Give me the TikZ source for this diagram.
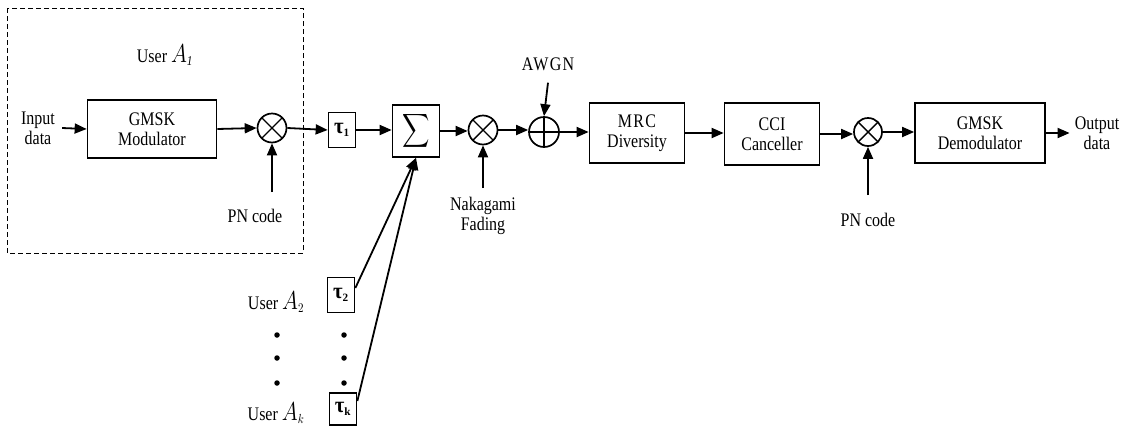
\documentclass[tikz,border=0pt]{standalone}
\usepackage{fontspec}
\setmainfont{Liberation Serif}
\usetikzlibrary{arrows.meta,calc}
\newcommand{\vs}[1]{\scalebox{1}[1.2]{#1}}
\newcommand{\bigA}{\scalebox{1.25}{\(A\)}}
\newcommand{\tausub}[1]{\scalebox{1.3}[1.4]{\textbf{τ}}\textsubscript{\textbf{#1}}}
\begin{document}
\begin{tikzpicture}[x=1pt,y=-1pt,
  every node/.style={font=\fontsize{16}{20}\selectfont},
  blk/.style={draw,line width=1.7pt,minimum width=#1,align=center,inner sep=0pt},
  tbox/.style={draw,line width=1.7pt,minimum width=27pt,minimum height=35pt,inner sep=0pt},
  mix/.style={draw,circle,line width=1.7pt,minimum size=29pt,inner sep=0pt,path picture={
      \draw[line width=1.4pt] (path picture bounding box.north west) -- (path picture bounding box.south east)
      (path picture bounding box.north east) -- (path picture bounding box.south west);}},
  addr/.style={draw,circle,line width=1.7pt,minimum size=30pt,inner sep=0pt,path picture={
      \draw[line width=1.4pt] (path picture bounding box.north) -- (path picture bounding box.south)
      (path picture bounding box.east) -- (path picture bounding box.west);}},
  arr/.style={line width=1.8pt,-{Triangle[length=12pt,width=10pt]}},
  lbl/.style={align=center,inner sep=2pt},
  dot/.style={circle,fill,inner sep=0pt,minimum size=5.5pt}]
\useasboundingbox (0,0) rectangle (1139,426);
% user A1 dashed box
\draw[line width=0.9pt,dash pattern=on 5pt off 3pt] (7,8) rectangle (303,253);
\node[lbl] (ua1) at (165,55) {\vs{User \bigA\(_{\mathit{1}}\)}};
\node[lbl,align=center,inner sep=0pt] (in) at (38,128) {\vs{Input}\\\vs{data}};
\node[blk=129pt,minimum height=58pt] (mod) at (152,129) {\vs{GMSK}\\\vs{Modulator}};
\node[mix] (m1) at (272,128) {};
\coordinate (pn1a) at (272,192);
\node[lbl] (pn1) at (255,216) {\vs{PN code}};
\node[tbox] (t1) at (342,130) {\tausub{1}};
\node[blk=47pt,minimum height=52pt] (sig) at (416,131) {\scalebox{1.9}[2.35]{\(\displaystyle\sum\)}};
\node[mix] (m2) at (483,130) {};
\coordinate (nka) at (483,188);
\node[lbl] (nk) at (483,216) {\vs{Nakagami}\\\vs{Fading}};
\node[addr] (add) at (544,132) {};
\node[lbl] (awgn) at (548,64) {\vs{\addfontfeature{LetterSpace=8}AWGN}};
\node[blk=95pt,minimum height=60pt] (mrc) at (637,133) {\vs{\addfontfeature{LetterSpace=8}MRC}\\\vs{Diversity}};
\node[blk=95pt,minimum height=62pt] (cci) at (772,134) {\vs{CCI}\\\vs{Canceller}};
\node[mix,minimum size=28pt] (m3) at (868,132) {};
\coordinate (pn3a) at (868,195);
\node[lbl] (pn3) at (868,220) {\vs{PN code}};
\node[blk=130pt,minimum height=60pt] (dem) at (980,133) {\vs{GMSK}\\\vs{Demodulator}};
\node[lbl,inner sep=0pt] (out) at (1097,133) {\vs{Output}\\\vs{data}};
% other users
\node[lbl] (ua2) at (276,302) {\vs{User \bigA\(_{2}\)}};
\node[tbox] (t2) at (341,295) {\tausub{2}};
\node[lbl] (uak) at (276,413) {\vs{User \bigA\(_{k}\)}};
\node[tbox,minimum height=32pt] (tk) at (343,409) {\tausub{k}};
\foreach \yy in {335,358,383} {
  \node[dot] at (277,\yy) {};
  \node[dot] at (344,\yy) {};
}
% connectors
\draw[arr] ([xshift=7pt]in.east) -- (mod.west);
\draw[arr] (mod.east) -- (m1.west);
\draw[arr] (pn1a) -- (m1.south);
\draw[arr] (m1.east) -- (t1.west);
\draw[arr] (t1.east) -- (t1.east -| sig.west);
\draw[arr] (sig.east) -- (sig.east -| m2.west);
\draw[arr] (nka) -- (m2.south);
\draw[arr] (m2.east) -- (m2.east -| add.west);
\draw[arr] ([yshift=-10pt]awgn.south) -- (add.north);
\draw[arr] (add.east) -- (add.east -| mrc.west);
\draw[arr] (mrc.east) -- (mrc.east -| cci.west);
\draw[arr] (cci.east) -- (cci.east -| m3.west);
\draw[arr] (pn3a) -- (m3.south);
\draw[arr] (m3.east) -- (m3.east -| dem.west);
\draw[arr] (dem.east) -- ([xshift=-5pt]out.west |- dem.east);
\draw[arr] ([yshift=7pt]t2.east) -- (sig.south);
\draw[arr] ([yshift=8pt]tk.east) -- (sig.south);
\end{tikzpicture}
\end{document}
